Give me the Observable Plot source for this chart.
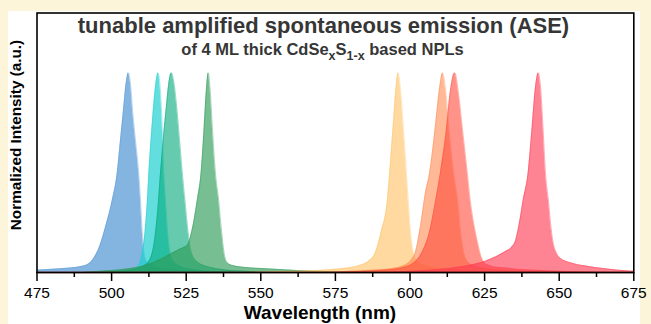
<!DOCTYPE html>
<html>
<head>
<meta charset="utf-8">
<script src="https://cdn.jsdelivr.net/npm/d3@7"></script>
<script src="https://cdn.jsdelivr.net/npm/@observablehq/plot@0.6"></script>
<style>
  body { margin: 0; background: #FDF5D9; font-family: "Liberation Sans", Arial, sans-serif; }
  #wrap { position: relative; width: 651px; height: 324px; overflow: hidden; }
  #paper { position: absolute; left: 8px; top: 11px; width: 632px; height: 313px; background: #fff; }
  #chart { position: absolute; left: 0; top: 0; }
  .t { position: absolute; white-space: nowrap; font-weight: bold; }
  #title { left: 0; width: 647px; text-align: center; top: 15px; font-size: 22px; line-height: 22px; color: #363636; }
  #subtitle { left: 0; width: 645px; text-align: center; top: 41px; font-size: 16.5px; line-height: 16px; color: #363636; }
  #subtitle sub { font-size: 12.5px; vertical-align: -5px; line-height: 0; }
  #ylab { left: 16px; top: 135px; font-size: 15.3px; transform: translate(-50%, -50%) rotate(-90deg); color: #000; }
  #xlab { left: 320px; top: 313px; font-size: 19px; transform: translate(-50%, -50%); color: #000; }
</style>
</head>
<body>
<div id="wrap">
  <div id="paper"></div>
  <div id="chart"></div>
  <div class="t" id="title">tunable amplified spontaneous emission (ASE)</div>
  <div class="t" id="subtitle">of 4 ML thick CdSe<sub>x</sub>S<sub>1-x</sub> based NPLs</div>
  <div class="t" id="ylab">Normalized Intensity (a.u.)</div>
  <div class="t" id="xlab">Wavelength (nm)</div>
</div>
<script>
// Spectra: [wavelength (nm), normalized intensity]
const blue505 = [[475,0.012],[480,0.016],[485,0.021],[489,0.028],[492,0.04],[494,0.07],[496,0.13],[498.2,0.24],[500.2,0.36],[501.9,0.5],[502.9,0.65],[503.9,0.8],[504.9,0.95],[505.6,1],[506.3,0.95],[507.1,0.8],[508.1,0.65],[509.1,0.5],[509.7,0.36],[510.3,0.2],[510.9,0.1],[511.8,0.055],[513.5,0.035],[517,0.02],[523,0.011],[532,0.005],[545,0]];
const cyan515 = [[495,0],[502,0.006],[506,0.012],[508.5,0.025],[510.3,0.1],[511.2,0.2],[512,0.36],[512.5,0.5],[513.5,0.72],[514.5,0.9],[515.6,1],[516.4,0.9],[517,0.72],[517.5,0.5],[518.1,0.36],[518.8,0.2],[519.6,0.1],[521,0.05],[524,0.025],[530,0.01],[540,0]];
const teal520 = [[495,0],[503,0.008],[508,0.018],[511,0.035],[513,0.07],[514.3,0.15],[515.4,0.3],[516.4,0.5],[517.4,0.68],[518.5,0.85],[519.3,0.96],[520,1],[520.8,0.96],[521.7,0.85],[522.7,0.68],[523.7,0.5],[524.6,0.36],[525.3,0.25],[526,0.16],[527,0.09],[529,0.05],[532,0.03],[537,0.015],[545,0.006],[555,0]];
const green532 = [[490,0],[495,0.005],[500,0.01],[505,0.018],[510,0.03],[514,0.05],[517,0.07],[520.7,0.1],[523,0.118],[525.3,0.135],[526.8,0.2],[528.7,0.36],[530,0.5],[531,0.72],[531.8,0.92],[532.4,1],[533,0.92],[533.8,0.72],[534.8,0.5],[535.9,0.36],[536.9,0.2],[537.8,0.09],[538.7,0.05],[540.5,0.035],[545,0.025],[553,0.018],[562,0.01],[575,0.004],[590,0]];
const yellow596 = [[545,0],[555,0.004],[565,0.008],[573,0.014],[579,0.022],[583,0.035],[586,0.055],[588.4,0.1],[590.3,0.2],[592.4,0.36],[593.2,0.5],[594.3,0.72],[595.3,0.92],[596,1],[596.8,0.92],[597.8,0.72],[598.8,0.5],[599.4,0.36],[600.2,0.2],[601.1,0.1],[602.3,0.06],[605,0.035],[610,0.02],[618,0.01],[630,0]];
const orange611 = [[570,0],[580,0.006],[588,0.012],[594,0.02],[598,0.035],[600.3,0.06],[601.8,0.1],[603.5,0.23],[605.2,0.4],[606.6,0.5],[608.5,0.73],[609.9,0.92],[610.9,1],[611.9,0.92],[613,0.73],[614.6,0.5],[616,0.36],[617,0.2],[618,0.1],[619.5,0.05],[622,0.03],[628,0.015],[640,0.005],[655,0]];
const coral615 = [[575,0],[585,0.006],[592,0.012],[597,0.022],[601,0.045],[604,0.1],[606.5,0.2],[608.6,0.36],[610.2,0.5],[612.3,0.73],[613.3,0.88],[615,1],[616.4,0.88],[617.5,0.73],[619.2,0.5],[620.2,0.36],[621.3,0.25],[622.5,0.16],[623.6,0.09],[624.8,0.05],[627,0.033],[632,0.022],[640,0.012],[655,0.004],[670,0]];
const pink643 = [[590,0],[600,0.006],[607,0.012],[613,0.02],[618,0.03],[622,0.042],[625.5,0.058],[629,0.08],[632,0.105],[634,0.125],[635.4,0.16],[636.7,0.25],[637.9,0.36],[639.6,0.5],[640.9,0.72],[642,0.92],[643,1],[643.8,0.92],[644.6,0.72],[645.4,0.5],[646.4,0.36],[647.3,0.22],[648.1,0.14],[649,0.1],[650.5,0.07],[654,0.048],[659,0.032],[664,0.021],[670,0.011],[675,0.006]];

const seriesList = [blue505, cyan515, teal520, green532, yellow596, orange611, coral615, pink643];
const seriesColors = ["#5B9BD5", "#20D0D0", "#00A878", "#2E9B57", "#FFC060", "#FF8A50", "#FF4A3A", "#FF3850"];
const seriesOpacity = [0.75, 0.7, 0.6, 0.65, 0.6, 0.6, 0.6, 0.62];

const majorTicks = [475, 500, 525, 550, 575, 600, 625, 650, 675];
const minorTicks = [487.5, 512.5, 537.5, 562.5, 587.5, 612.5, 637.5, 662.5];

const marks = [];
seriesList.forEach((s, i) => {
  marks.push(Plot.areaY(s, {x: d => d[0], y: d => d[1], fill: seriesColors[i], fillOpacity: seriesOpacity[i], curve: "monotone-x"}));
  marks.push(Plot.lineY(s, {x: d => d[0], y: d => d[1], stroke: seriesColors[i], strokeOpacity: 0.5, strokeWidth: 0.8, curve: "monotone-x"}));
});
marks.push(Plot.ruleY([0], {stroke: "#B02020", strokeWidth: 1.5}));
marks.push(Plot.frame({stroke: "#000", strokeWidth: 1.6}));
marks.push(Plot.axisX(majorTicks, {tickSize: 9, tickPadding: 5, fontSize: 15.5, stroke: "#000", strokeWidth: 1.5, fill: "#000", tickFormat: d => String(d)}));
marks.push(Plot.axisX(minorTicks, {tickSize: 5, tickFormat: () => "", stroke: "#000", strokeWidth: 1.5}));

const chart = Plot.plot({
  width: 651,
  height: 324,
  marginLeft: 36.5,
  marginRight: 17.7,
  marginTop: 12.5,
  marginBottom: 52,
  style: {background: "transparent", fontFamily: "Liberation Sans, Arial, sans-serif", color: "#000"},
  x: {domain: [475, 675]},
  y: {domain: [0, 1.3], axis: null},
  marks
});
document.getElementById("chart").appendChild(chart);
</script>
</body>
</html>
